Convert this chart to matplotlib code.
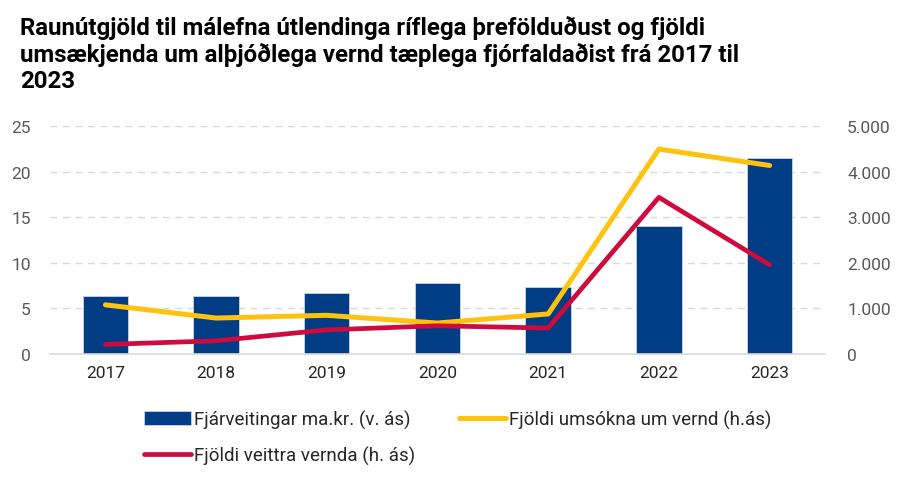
import matplotlib
matplotlib.use("Agg")
import matplotlib.pyplot as plt
from matplotlib.ticker import FuncFormatter

plt.rcParams["font.family"] = ["Roboto", "DejaVu Sans"]

years = ["2017", "2018", "2019", "2020", "2021", "2022", "2023"]
fjarveitingar = [6.35, 6.4, 6.7, 7.85, 7.4, 14.05, 21.5]
umsoknir = [1080, 790, 850, 680, 880, 4500, 4140]
veittar = [210, 290, 530, 620, 570, 3440, 1960]

navy = "#003d85"
yellow = "#ffc20e"
red = "#cf0a3c"

fig = plt.figure(figsize=(9, 4.85), dpi=100)
ax = fig.add_axes([0.0556, 0.268, 0.861, 0.4695])
ax2 = ax.twinx()

x = range(len(years))
bars = ax.bar(x, fjarveitingar, width=0.41, color=navy, edgecolor="#c8d4e6",
              linewidth=0.6, label="Fjárveitingar ma.kr. (v. ás)", zorder=2)
l1, = ax2.plot(x, umsoknir, color=yellow, lw=3.6, solid_capstyle="round",
               label="Fjöldi umsókna um vernd (h.ás)", zorder=3)
l2, = ax2.plot(x, veittar, color=red, lw=3.4, solid_capstyle="round",
               label="Fjöldi veittra vernda (h. ás)", zorder=3)

ax.set_xlim(-0.5, 6.5)
ax.set_ylim(0, 25)
ax2.set_ylim(0, 5000)
ax.set_yticks([0, 5, 10, 15, 20, 25])
ax2.set_yticks([0, 1000, 2000, 3000, 4000, 5000])
ax2.yaxis.set_major_formatter(FuncFormatter(lambda v, p: f"{int(v):,}".replace(",", ".")))
ax.set_xticks(list(x))
ax.set_xticklabels(years)

ax.yaxis.grid(True, color="#d9d9d9", linestyle=(0, (5, 4)), linewidth=1)
ax.set_axisbelow(True)
for a in (ax, ax2):
    for s in a.spines.values():
        s.set_visible(False)
    a.tick_params(length=0)
ax.spines["bottom"].set_visible(True)
ax.spines["bottom"].set_color("#d9d9d9")
ax.spines["bottom"].set_linewidth(1.2)
ax.tick_params(axis="y", labelsize=12.5, labelcolor="#595959", pad=14)
ax.tick_params(axis="x", labelsize=12.5, labelcolor="#262626", pad=8)
ax2.tick_params(axis="y", labelsize=12.5, labelcolor="#595959", pad=16)

fig.text(0.022, 0.967, "Raunútgjöld til málefna útlendinga ríflega þrefölduðust og fjöldi\n"
         "umsækjenda um alþjóðlega vernd tæplega fjórfaldaðist frá 2017 til\n2023",
         fontsize=17.3, fontweight="bold", va="top", ha="left", linespacing=1.17)

fig.legend(handles=[bars, l2, l1], loc="upper left", bbox_to_anchor=(0.141, 0.188),
           ncol=2, frameon=False, fontsize=13.5, handlelength=2.5, handletextpad=0.2,
           columnspacing=2.3, labelspacing=0.9, labelcolor="#262626")

fig.savefig("out.png", dpi=100)
